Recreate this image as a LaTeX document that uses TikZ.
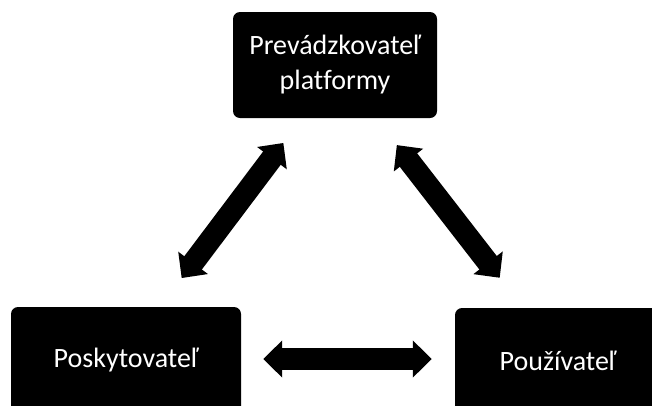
\documentclass[tikz,border=0pt]{standalone}
\usepackage{fontspec}
\setmainfont{Carlito}[Ligatures=NoCommon]
\usetikzlibrary{arrows.meta}

\begin{document}
\begin{tikzpicture}[x=1pt, y=-1pt,
		actor/.style={fill=black, text=white, rounded corners=7pt, minimum height=106pt, inner sep=0pt, align=center, font=\fontsize{28}{35}\selectfont},
		bigarrow/.style={line width=22pt, >={Triangle[width=36pt,length=19pt]}, <->}]
				\useasboundingbox (0,0) rectangle (652,405);
				\clip (0,0) rectangle (652,405);
				\node[actor, minimum width=204pt] (operator) at (335,65) {Prevádzkovateľ\\platformy};
				\node[actor, minimum width=230pt] (provider) at (126,360) {Poskytovateľ};
				\node[actor, minimum width=206pt] (user) at (558,361) {Používateľ};
				\draw[bigarrow, shorten <=36pt, shorten >=31pt] ([xshift=34pt]provider.north) -- ([xshift=-33pt]operator.south);
				\draw[bigarrow, shorten <=34pt, shorten >=38pt] ([xshift=41pt]operator.south) -- ([xshift=-35pt]user.north);
				\draw[bigarrow, shorten <=22pt, shorten >=23pt] (provider.east |- 0,359) -- (user.west |- 0,359);
			\end{tikzpicture}
\end{document}
